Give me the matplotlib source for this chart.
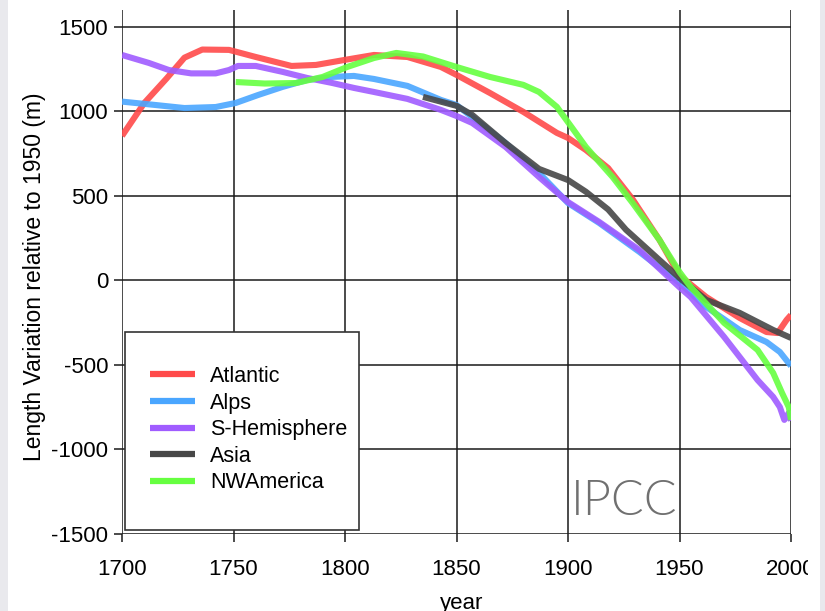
import matplotlib
matplotlib.use("Agg")
import matplotlib.pyplot as plt
from matplotlib.patches import Rectangle

# Glacier length records, metres relative to 1950
atlantic_years = [1700, 1710, 1720, 1728, 1736, 1748, 1760, 1776, 1787, 1800,
                  1813, 1828, 1843, 1850, 1865, 1880, 1895, 1900, 1908, 1918,
                  1929, 1941, 1950, 1962, 1977, 1989, 1994, 1998, 2000]
atlantic_vals = [855, 1050, 1195, 1318, 1366, 1364, 1322, 1269, 1275, 1305,
                 1334, 1322, 1263, 1216, 1109, 997, 873, 843, 772, 665,
                 480, 240, 30, -98, -222, -305, -311, -234, -204]

alps_years = [1700, 1715, 1728, 1742, 1751, 1761, 1772, 1783, 1794, 1804,
              1813, 1828, 1843, 1850, 1857, 1872, 1887, 1900, 1914, 1932,
              1950, 1962, 1977, 1989, 1995, 2000]
alps_vals = [1058, 1038, 1020, 1026, 1050, 1097, 1145, 1186, 1204, 1210,
             1192, 1151, 1068, 1038, 967, 813, 636, 458, 340, 169,
             -15, -157, -293, -364, -423, -506]

shem_years = [1700, 1712, 1721, 1731, 1742, 1748, 1752, 1760, 1772, 1783,
              1794, 1804, 1813, 1828, 1843, 1850, 1857, 1872, 1887, 1900,
              1914, 1932, 1950, 1955, 1970, 1985, 1992, 1995, 1997, 1999, 2000]
shem_vals = [1334, 1287, 1245, 1225, 1225, 1245, 1269, 1269, 1234, 1198,
             1169, 1139, 1115, 1074, 1009, 973, 932, 790, 612, 464,
             346, 180, -40, -98, -334, -589, -689, -749, -825, -784, -830]

asia_years = [1835, 1850, 1857, 1872, 1887, 1900, 1908, 1918, 1926, 1941,
              1950, 1962, 1977, 1992, 2000]
asia_vals = [1086, 1033, 980, 813, 660, 594, 525, 420, 300, 121,
             15, -115, -192, -293, -340]

nwam_years = [1751, 1764, 1778, 1790, 1801, 1813, 1823, 1835, 1850, 1865,
              1880, 1887, 1895, 1902, 1908, 1920, 1929, 1941, 1950, 1955,
              1970, 1985, 1992, 1996, 1999, 2000]
nwam_vals = [1174, 1165, 1168, 1204, 1263, 1316, 1346, 1325, 1263, 1204,
             1157, 1115, 1027, 900, 790, 612, 458, 240, 50, -38,
             -251, -411, -547, -666, -749, -825]

series_names = ["Atlantic", "Alps", "S-Hemisphere", "Asia", "NWAmerica"]
series_colors = ["#ff4a4a", "#4aa6ff", "#a05cff", "#474747", "#66ff40"]

x_ticks = [1700, 1750, 1800, 1850, 1900, 1950, 2000]
y_ticks = [-1500, -1000, -500, 0, 500, 1000, 1500]

plt.rcParams["font.family"] = ["Liberation Sans", "DejaVu Sans"]

W, H = 825, 611
fig = plt.figure(figsize=(W / 100, H / 100), dpi=100)
fig.patch.set_facecolor("white")

ax_l, ax_r, ax_t, ax_b = 122, 791, 10, 534
ax = fig.add_axes([ax_l / W, 1 - ax_b / H, (ax_r - ax_l) / W, (ax_b - ax_t) / H])

series = [(atlantic_years, atlantic_vals), (alps_years, alps_vals),
          (shem_years, shem_vals), (asia_years, asia_vals),
          (nwam_years, nwam_vals)]
for (xs, ys), name, col in zip(series, series_names, series_colors):
    ax.plot(xs, ys, color=col, lw=4.4, alpha=0.9, label=name,
            solid_capstyle="butt", solid_joinstyle="round", zorder=3)

ax.set_xlim(1700, 2000)
ax.set_ylim(-1500, 1600)
ax.set_xticks(x_ticks)
ax.set_yticks(y_ticks)
ax.set_xticklabels([str(t) for t in x_ticks])
ax.set_yticklabels([str(t) for t in y_ticks])
for s in ax.spines.values():
    s.set_visible(False)
ax.grid(True, color="#1a1a1a", lw=1.1, zorder=1)
ax.tick_params(axis="both", direction="out", length=6, width=1.1,
               color="#1a1a1a", labelsize=16)
ax.tick_params(axis="y", pad=4)
ax.tick_params(axis="x", pad=12)

# legend box
lx0, lx1, ly0, ly1 = 125, 359, 332, 530
fig.patches.append(Rectangle((lx0 / W, 1 - ly1 / H), (lx1 - lx0) / W,
                             (ly1 - ly0) / H, transform=fig.transFigure,
                             facecolor="white", edgecolor="#333333", lw=1.2,
                             zorder=5))
leg = ax.legend(loc="upper left", bbox_to_anchor=(150 / W, 1 - 366 / H),
                bbox_transform=fig.transFigure, frameon=False, fontsize=15.5,
                handlelength=2.1, handletextpad=0.7, labelspacing=0.26,
                borderpad=0, borderaxespad=0)
for h in leg.get_lines():
    h.set_linewidth(4.5)
    h.set_alpha(1)
leg.remove()
fig.add_artist(leg)
leg.set_zorder(6)

fig.text(35 / W, 1 - 277 / H, "Length Variation relative to 1950 (m)",
         rotation=90, ha="center", va="center", fontsize=16.5)
fig.text(462 / W, 1 - 609 / H, "year", ha="center", va="baseline",
         fontsize=16)

fig.text(571 / W, 1 - 515 / H, "IPCC", ha="left", va="baseline",
         fontsize=35, color="#707070", family="Lato", fontweight=300)

# page margins
fig.patches.append(Rectangle((808 / W, 0), 12 / W, 1, transform=fig.transFigure,
                             facecolor="white", edgecolor="none", zorder=20))
fig.patches.append(Rectangle((820 / W, 0), 5 / W, 1, transform=fig.transFigure,
                             facecolor="#e9e9ed", edgecolor="none", zorder=21))
fig.patches.append(Rectangle((0, 0), 8 / W, 1, transform=fig.transFigure,
                             facecolor="#e9e9ed", edgecolor="none", zorder=21))

fig.savefig("out.png", dpi=100)
